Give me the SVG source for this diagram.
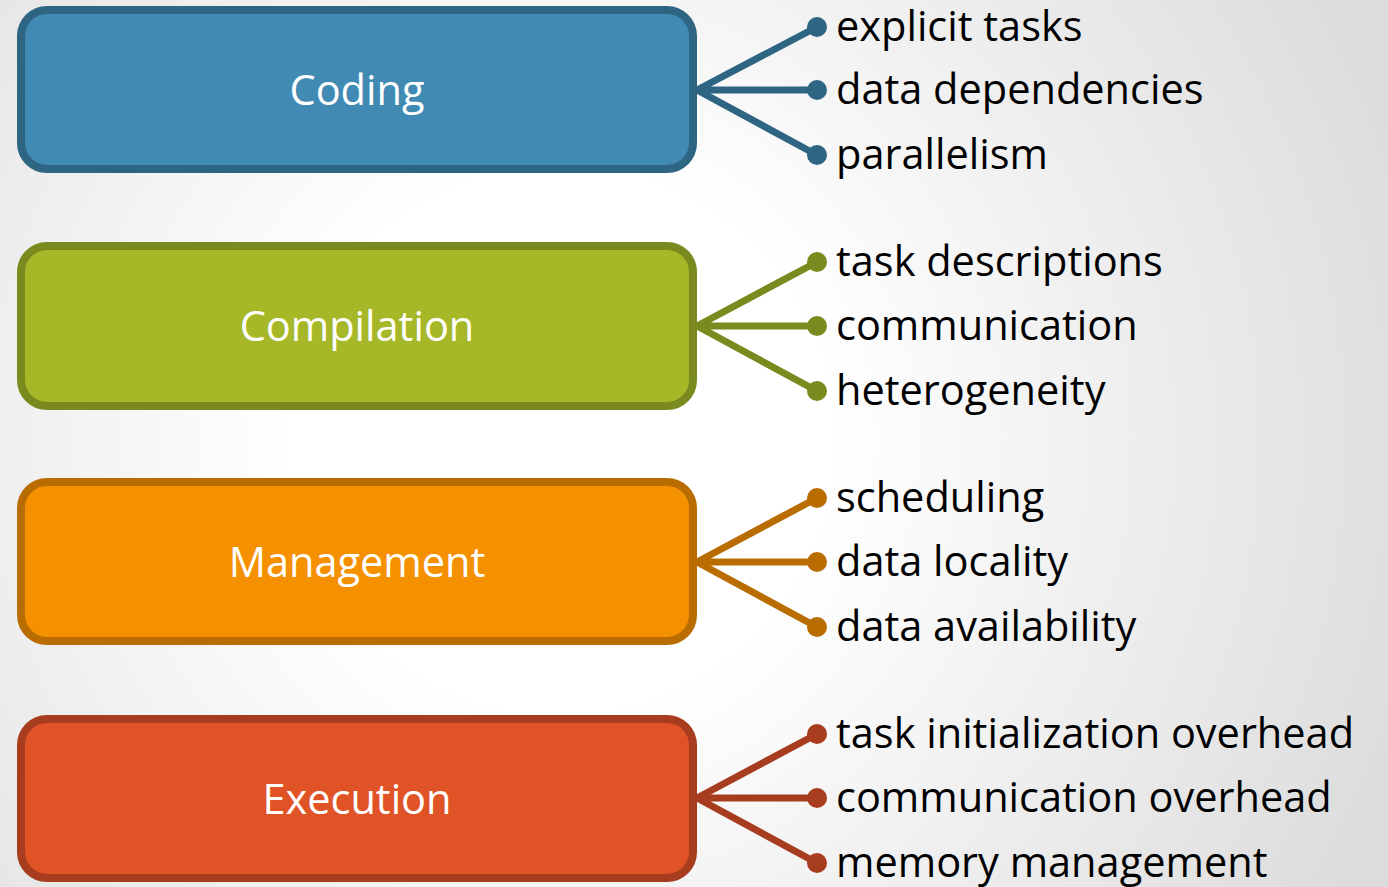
<svg xmlns="http://www.w3.org/2000/svg" width="1388" height="887" viewBox="0 0 1388 887">
  <defs>
    <radialGradient id="bg" gradientUnits="userSpaceOnUse" cx="560" cy="440" r="900">
      <stop offset="0" stop-color="#ffffff"/>
      <stop offset="0.3" stop-color="#ffffff"/>
      <stop offset="1" stop-color="#dcdcdc"/>
    </radialGradient>
    <style>
      .box { stroke-width: 8; }
      .title { font-family: "Open Sans", "Liberation Sans", sans-serif; font-size: 41.5px; fill: #ffffff; text-anchor: middle; }
      .item { font-family: "Open Sans", "Liberation Sans", sans-serif; font-size: 41.5px; fill: #000000; }
      .link { stroke-width: 7; fill: none; stroke-linecap: round; }
      .c1 { fill: #418AB3; stroke: #2E6583; }
      .c2 { fill: #A6B727; stroke: #7A8A1E; }
      .c3 { fill: #F59100; stroke: #B96C00; }
      .c4 { fill: #DF5327; stroke: #A73C1E; }
    </style>
  </defs>
  <rect width="1388" height="887" fill="url(#bg)"/>

  <!-- connectors: three spokes from each stage to its list items -->
  <g id="connectors">
    <g stroke="#2E6583" class="link">
      <path d="M697,90 L817,27 M697,90 L817,90 M697,90 L817,155"/>
    </g>
    <g fill="#2E6583">
      <circle cx="817" cy="27" r="10"/><circle cx="817" cy="90" r="10"/><circle cx="817" cy="155" r="10"/>
    </g>
    <g stroke="#7A8A1E" class="link">
      <path d="M697,326 L817,262 M697,326 L817,326 M697,326 L817,391"/>
    </g>
    <g fill="#7A8A1E">
      <circle cx="817" cy="262" r="10"/><circle cx="817" cy="326" r="10"/><circle cx="817" cy="391" r="10"/>
    </g>
    <g stroke="#B96C00" class="link">
      <path d="M697,562 L817,498 M697,562 L817,562 M697,562 L817,627"/>
    </g>
    <g fill="#B96C00">
      <circle cx="817" cy="498" r="10"/><circle cx="817" cy="562" r="10"/><circle cx="817" cy="627" r="10"/>
    </g>
    <g stroke="#A73C1E" class="link">
      <path d="M697,798 L817,734 M697,798 L817,798 M697,798 L817,863"/>
    </g>
    <g fill="#A73C1E">
      <circle cx="817" cy="734" r="10"/><circle cx="817" cy="798" r="10"/><circle cx="817" cy="863" r="10"/>
    </g>
  </g>

  <g id="coding">
    <rect class="box c1" x="21" y="10" width="672" height="159" rx="26"/>
    <text class="title" x="357" y="105">Coding</text>
  </g>
  <g id="coding-items">
    <text class="item" x="836" y="41">explicit tasks</text>
    <text class="item" x="836" y="104">data dependencies</text>
    <text class="item" x="836" y="169">parallelism</text>
  </g>

  <g id="compilation">
    <rect class="box c2" x="21" y="246" width="672" height="160" rx="26"/>
    <text class="title" x="357" y="341">Compilation</text>
  </g>
  <g id="compilation-items">
    <text class="item" x="836" y="276">task descriptions</text>
    <text class="item" x="836" y="340">communication</text>
    <text class="item" x="836" y="405">heterogeneity</text>
  </g>

  <g id="management">
    <rect class="box c3" x="21" y="482" width="672" height="159" rx="26"/>
    <text class="title" x="357" y="577">Management</text>
  </g>
  <g id="management-items">
    <text class="item" x="836" y="512">scheduling</text>
    <text class="item" x="836" y="576">data locality</text>
    <text class="item" x="836" y="641">data availability</text>
  </g>

  <g id="execution">
    <rect class="box c4" x="21" y="719" width="672" height="159" rx="26"/>
    <text class="title" x="357" y="814">Execution</text>
  </g>
  <g id="execution-items">
    <text class="item" x="836" y="748">task initialization overhead</text>
    <text class="item" x="836" y="812">communication overhead</text>
    <text class="item" x="836" y="877">memory management</text>
  </g>
</svg>
